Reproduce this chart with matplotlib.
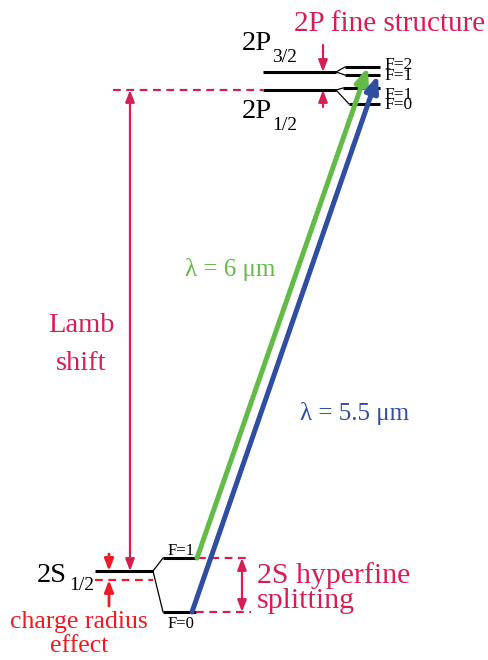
import matplotlib.pyplot as plt

plt.rcParams['font.family'] = ['Liberation Serif', 'DejaVu Serif']

# colours
CRIMSON = '#d41f55'
RED = '#ec1c24'
GREEN = '#62bb47'
BLUE = '#2f4ea2'

# ---- level data (picture coordinates, y grows downwards) ----
# fine structure levels: name, y, x range
level_names = ['2S', '2P', '2P']
level_subs = ['1/2', '1/2', '3/2']
level_y = [571, 90, 72]
level_x0 = [95, 263, 263]
level_x1 = [153, 336, 336]

# hyperfine sub-levels of each fine level
hfs_labels = [['F=1', 'F=0'], ['F=1', 'F=0'], ['F=2', 'F=1']]
hfs_y = [[558, 612], [88, 104], [67, 75]]
hfs_x0 = [[163, 163], [343, 349], [345, 345]]
hfs_x1 = [[198, 196], [380, 380], [380, 380]]

# uncorrected 2S position (charge radius effect)
s_point_y = 580

# transitions: (from level, from F index) -> (to level, to F index)
trans_wavelength = ['6', '5.5']
trans_from = [(0, 0), (0, 1)]
trans_to = [(2, 0), (2, 1)]
trans_x_start = [197, 192]
trans_x_end = [368, 378]
trans_color = [GREEN, BLUE]

fig = plt.figure(figsize=(4.89, 6.6), dpi=100)
ax = fig.add_axes([0, 0, 1, 1])
ax.set_xlim(0, 489)
ax.set_ylim(660, 0)
ax.axis('off')

# fine structure levels and hyperfine splitting
for i in range(3):
    ax.plot([level_x0[i], level_x1[i]], [level_y[i], level_y[i]], color='black', lw=2.2,
            solid_capstyle='butt')
    for j in range(2):
        ax.plot([level_x1[i], hfs_x0[i][j]], [level_y[i], hfs_y[i][j]], color='black', lw=0.9)
        ax.plot([hfs_x0[i][j], hfs_x1[i][j]], [hfs_y[i][j], hfs_y[i][j]], color='black', lw=2.2,
                solid_capstyle='butt')

# level labels
label_pos = [(37, 582), (242, 118), (242, 50)]
sub_drop = [8, 12, 12]
sub_dx = [32, 30, 30]
for i in range(3):
    x, y = label_pos[i]
    ax.text(x, y, level_names[i], fontsize=20.5, va='baseline', ha='left')
    ax.text(x + sub_dx[i], y + sub_drop[i], level_subs[i], fontsize=14, va='baseline',
            ha='left')

# hyperfine labels
ax.text(168, 555, hfs_labels[0][0], fontsize=12, va='baseline')
ax.text(168, 628, hfs_labels[0][1], fontsize=12, va='baseline')
for i, j, yb in [(2, 0, 69), (2, 1, 80), (1, 0, 99), (1, 1, 109)]:
    ax.text(384, yb, hfs_labels[i][j], fontsize=12.5, va='baseline')

# red dashed reference lines
dash = dict(color=CRIMSON, lw=1.6, ls=(0, (3.5, 2.5)))
ax.plot([113, level_x0[1]], [level_y[1], level_y[1]], **dash)
ax.plot([hfs_x1[0][0], 251], [hfs_y[0][0], hfs_y[0][0]], **dash)
ax.plot([hfs_x1[0][1], 251], [hfs_y[0][1], hfs_y[0][1]], **dash)
ax.plot([level_x0[0], level_x1[0]], [s_point_y, s_point_y], color=RED, lw=1.6,
        ls=(0, (3.5, 2.5)))


def arrow(x0, y0, x1, y1, color, style='-|>', lw=1.6, hw=0.27, hl=0.7, ms=10):
    ax.annotate('', xy=(x1, y1), xytext=(x0, y0),
                arrowprops=dict(arrowstyle=f'{style},head_width={hw},head_length={hl}',
                                color=color, lw=lw, shrinkA=0, shrinkB=0,
                                mutation_scale=ms))


# Lamb shift arrow
arrow(130, level_y[0], 130, level_y[1], CRIMSON, style='<|-|>')
ax.text(81, 332, 'Lamb', fontsize=20.5, color=CRIMSON, ha='center', va='baseline')
ax.text(81, 370, 'shift', fontsize=20.5, color=CRIMSON, ha='center', va='baseline')

# 2P fine structure arrows
arrow(323, 45, 323, level_y[2], CRIMSON)
arrow(323, 107, 323, level_y[1], CRIMSON)
ax.text(390, 31, '2P fine structure', fontsize=21, color=CRIMSON, ha='center',
        va='baseline')

# 2S hyperfine splitting arrow
arrow(242, hfs_y[0][1], 242, hfs_y[0][0], CRIMSON, style='<|-|>')
ax.text(257, 583, '2S hyperfine', fontsize=21.5, color=CRIMSON, va='baseline')
ax.text(257, 608, 'splitting', fontsize=21.5, color=CRIMSON, va='baseline')

# charge radius effect arrows
arrow(109, 554, 109, level_y[0], RED, lw=2)
arrow(109, 606, 109, s_point_y, RED, lw=2)
ax.text(79, 628, 'charge radius', fontsize=18.5, color=RED, ha='center', va='baseline')
ax.text(79, 652, 'effect', fontsize=18.5, color=RED, ha='center', va='baseline')

# laser transitions
for k in range(2):
    lf, fj = trans_from[k]
    lt, tj = trans_to[k]
    ax.annotate('', xy=(trans_x_end[k], hfs_y[lt][tj]),
                xytext=(trans_x_start[k], hfs_y[lf][fj]),
                arrowprops=dict(arrowstyle='-|>,head_width=0.3,head_length=0.75',
                                color=trans_color[k], lw=3.6, shrinkA=0, shrinkB=0,
                                mutation_scale=13))

ax.text(185, 276, f'λ = {trans_wavelength[0]} μm', fontsize=18, color=GREEN, va='baseline')
ax.text(300, 420, f'λ = {trans_wavelength[1]} μm', fontsize=18, color=BLUE, va='baseline')

fig.savefig('out.png', dpi=100)
